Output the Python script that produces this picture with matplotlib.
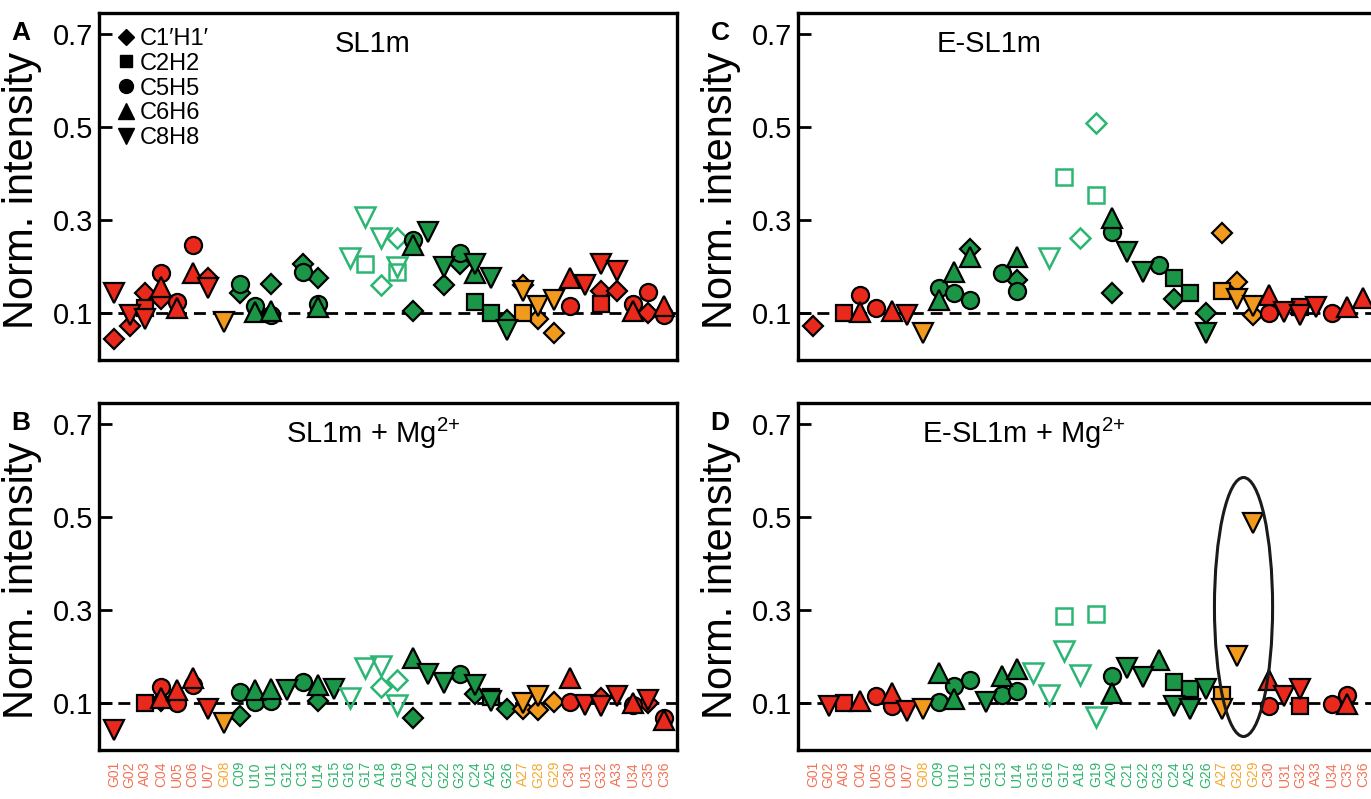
import matplotlib
matplotlib.use('Agg')
import matplotlib.pyplot as plt
from matplotlib.lines import Line2D
from matplotlib.patches import Ellipse

plt.rcParams['font.family'] = ['Liberation Sans', 'DejaVu Sans']
plt.rcParams['mathtext.fontset'] = 'custom'
plt.rcParams['mathtext.rm'] = 'Liberation Sans'
plt.rcParams['mathtext.default'] = 'regular'

# residues along the x axis
residues = ['G01', 'G02', 'A03', 'C04', 'U05', 'C06', 'U07', 'G08', 'C09', 'U10',
            'U11', 'G12', 'C13', 'U14', 'G15', 'G16', 'G17', 'A18', 'G19', 'A20',
            'C21', 'G22', 'G23', 'C24', 'A25', 'G26', 'A27', 'G28', 'G29', 'C30',
            'U31', 'G32', 'A33', 'U34', 'C35', 'C36']
# colour group of each residue (r = red, o = orange, g = green)
groups = ['r'] * 7 + ['o'] + ['g'] * 18 + ['o'] * 3 + ['r'] * 7

# normalised intensities, {residue position: value}
A_H1 = {1: .046, 2: .074, 3: .143, 4: .132, 7: .177, 9: .143, 11: .164, 13: .207, 14: .177,
        18: .160, 19: .261, 20: .106, 22: .160, 23: .207, 26: .085, 27: .160, 28: .089,
        29: .057, 32: .149, 33: .149, 35: .100}
A_H2 = {3: .111, 17: .207, 19: .188, 24: .124, 25: .100, 27: .100, 32: .121}
A_H5 = {4: .186, 5: .124, 6: .246, 9: .164, 10: .117, 11: .096, 13: .188, 14: .121, 20: .257,
        23: .229, 30: .117, 34: .121, 35: .145, 36: .096}
A_H6 = {4: .156, 5: .111, 6: .186, 10: .102, 11: .106, 14: .113, 20: .246, 24: .186, 30: .175,
        34: .106, 36: .117}
A_H8 = {1: .143, 2: .096, 3: .089, 7: .154, 8: .081, 16: .218, 17: .306, 18: .261, 19: .199,
        21: .274, 22: .199, 24: .207, 25: .175, 26: .064, 27: .149, 28: .117, 29: .128,
        31: .160, 32: .207, 33: .192}

B_H1 = {4: .106, 9: .074, 14: .106, 18: .135, 19: .150, 20: .068, 24: .121, 26: .089, 27: .089,
        28: .085, 29: .102, 32: .111, 35: .100}
B_H2 = {3: .100, 25: .113}
B_H5 = {4: .135, 5: .100, 6: .140, 9: .124, 10: .102, 11: .105, 13: .145, 23: .164, 30: .102,
        34: .096, 36: .068}
B_H6 = {4: .112, 5: .128, 6: .154, 10: .128, 11: .132, 14: .139, 20: .197, 30: .154, 34: .100,
        36: .064}
B_H8 = {1: .042, 7: .089, 8: .057, 12: .128, 15: .132, 16: .111, 17: .177, 18: .180, 19: .096,
        21: .164, 22: .143, 24: .139, 25: .105, 27: .100, 28: .117, 31: .096, 32: .094,
        33: .117, 35: .108}

C_H1 = {1: .074, 11: .239, 14: .171, 18: .263, 19: .508, 20: .143, 24: .132, 26: .100, 27: .272,
        28: .167, 29: .096}
C_H2 = {3: .100, 17: .392, 19: .355, 24: .175, 25: .143, 27: .149, 32: .113}
C_H5 = {4: .139, 5: .111, 9: .154, 10: .143, 11: .128, 13: .186, 14: .149, 20: .274, 23: .203,
        30: .100, 34: .100}
C_H6 = {4: .102, 6: .106, 9: .128, 10: .188, 11: .221, 14: .221, 20: .304, 30: .139, 35: .113,
        36: .134}
C_H8 = {7: .096, 8: .059, 16: .218, 21: .231, 22: .188, 26: .059, 28: .132, 29: .117, 31: .102,
        32: .096, 33: .113}

D_H1 = {}
D_H2 = {3: .100, 17: .287, 19: .291, 24: .145, 25: .130, 27: .119, 32: .094}
D_H5 = {5: .115, 6: .094, 9: .104, 10: .137, 11: .151, 13: .119, 14: .126, 20: .158, 30: .094,
        34: .098, 35: .119}
D_H6 = {4: .105, 6: .123, 9: .166, 10: .110, 13: .158, 14: .173, 20: .123, 23: .194, 30: .151,
        35: .098}
D_H8 = {2: .094, 7: .083, 8: .087, 12: .102, 15: .166, 16: .119, 17: .212, 18: .162, 19: .070,
        21: .177, 22: .156, 24: .094, 25: .087, 26: .130, 27: .087, 28: .201, 29: .488,
        31: .115, 32: .130}

probe_names = ["C1\u2032H1\u2032", "C2H2", "C5H5", "C6H6", "C8H8"]
probe_markers = [('D', 10), ('s', 11), ('o', 12.3), ('^', 14), ('v', 14)]
legend_sizes = [8.5, 9, 10, 11, 11]

FILL = {'r': '#e8291c', 'g': '#1a9646', 'o': '#f29a1e'}
LABEL = {'r': '#f37256', 'g': '#2cb56b', 'o': '#f5a931'}
OPEN = '#2bb673'

W, H = 1371, 799
PW, PH = 578, 347

fig = plt.figure(figsize=(W / 100, H / 100), dpi=100)


def make_panel(left, top, title, title_x, letter, series, hollow, bottom_row):
    ax = fig.add_axes([left / W, 1 - (top + PH) / H, PW / W, PH / H])
    ax.set_xlim(0.05, 36.83)
    ax.set_ylim(0.0, 0.745)
    ax.axhline(0.1, color='black', lw=2, ls=(0, (4.3, 2.5)), zorder=1)

    for data, (mk, ms) in zip(series, probe_markers):
        for pos, val in data.items():
            if pos in hollow:
                ax.plot(pos, val, marker=mk, ms=ms, mfc='none', mec=OPEN, mew=1.8,
                        ls='none', zorder=3)
            else:
                ax.plot(pos, val, marker=mk, ms=ms, mfc=FILL[groups[pos - 1]], mec='black',
                        mew=1.6, ls='none', zorder=3)

    for s in ax.spines.values():
        s.set_linewidth(2.4)
    ax.set_yticks([0.1, 0.3, 0.5, 0.7])
    ax.set_yticklabels(['0.1', '0.3', '0.5', '0.7'])
    ax.tick_params(axis='y', direction='in', length=9, width=2, labelsize=21, pad=4)
    ax.set_ylabel('Norm. intensity', fontsize=30)
    ax.yaxis.set_label_coords(-0.098, 0.49)

    if bottom_row:
        ax.set_xticks(range(1, 37))
        ax.set_xticklabels(residues, rotation=90, fontsize=10, va='top')
        for lbl, g in zip(ax.get_xticklabels(), groups):
            lbl.set_color(LABEL[g])
        ax.tick_params(axis='x', length=0, pad=8)
    else:
        ax.set_xticks([])

    ax.text(title_x, 0.912, title, transform=ax.transAxes, ha='center', va='center',
            fontsize=21)
    fig.text((left - 78) / W, 1 - (top + 20) / H, letter, fontsize=19, fontweight='bold',
             ha='center', va='center')
    return ax


hollow_std = {16, 17, 18, 19}
axA = make_panel(99, 13, 'SL1m', 0.474, 'A', [A_H1, A_H2, A_H5, A_H6, A_H8], hollow_std, False)
axB = make_panel(99, 403, 'SL1m + Mg$^{2{+}}$', 0.474, 'B', [B_H1, B_H2, B_H5, B_H6, B_H8],
                 hollow_std, True)
axC = make_panel(798, 13, 'E-SL1m', 0.33, 'C', [C_H1, C_H2, C_H5, C_H6, C_H8], hollow_std, False)
axD = make_panel(798, 403, 'E-SL1m + Mg$^{2{+}}$', 0.39, 'D', [D_H1, D_H2, D_H5, D_H6, D_H8],
                 {15, 16, 17, 18, 19}, True)

# legend of the probe types (panel A)
handles = [Line2D([], [], marker=mk, ms=ms, color='black', ls='none')
           for (mk, _), ms in zip(probe_markers, legend_sizes)]
axA.legend(handles, probe_names, loc='upper left', bbox_to_anchor=(0.032, 0.957),
           frameon=False, fontsize=17, handlelength=0.7, handletextpad=0.25,
           labelspacing=0.12, borderpad=0, borderaxespad=0)

# highlighted G28/G29 signals in panel D
axD.add_patch(Ellipse((28.4, 0.307), 3.7, 0.556, fill=False, ec='#1a1a1a', lw=2.2, zorder=4))

fig.savefig('out.png', dpi=100)
